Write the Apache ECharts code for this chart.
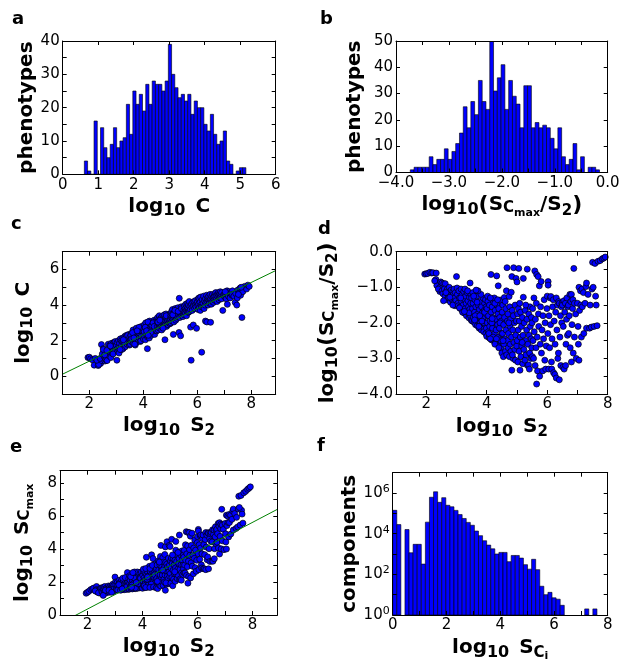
<!DOCTYPE html>
<html><head><meta charset="utf-8">
<script src="https://cdn.jsdelivr.net/npm/echarts@6/dist/echarts.min.js"></script>
<style>html,body{margin:0;padding:0;background:#fff}#chart{width:623px;height:665px}</style>
</head><body><div id="chart"></div>
<script>
// ---------- DATA ----------
// (a) histogram of log10 C : 50 bins starting at 0.61, width 0.091
const aBinStart = 0.61, aBinWidth = 0.091;
const aCounts = [4,1,0,16,0,14,8,5,9,14,8,10,11,21,12,25,21,24,19,27,21,28,27,27,25,28,39,30,26,23,24,22,24,18,22,20,20,15,13,18,12,9,10,13,4,3,0,1,2,2];
// (b) histogram of log10(Scmax/S2) : 50 bins starting at -3.73, width 0.0715
const bBinStart = -3.73, bBinWidth = 0.0715;
const bCounts = [1,2,2,2,2,6,3,5,5,9,5,8,11,15,25,17,27,22,35,27,24,50,31,36,41,24,35,29,26,17,33,33,17,19,17,18,17,13,9,17,6,3,5,11,1,6,0,2,2,1];
// (f) histogram of log10 S_Ci (counts, log y) : 50 bins from 0, width 0.152
const fBinStart = 0, fBinWidth = 0.152;
const fCounts = [141000,28000,0,16000,1150,3000,3000,320,37000,620000,1150000,350000,590000,250000,210000,140000,87000,56000,36000,26000,13500,8000,4500,2750,1800,1000,1200,1200,420,850,850,630,300,180,550,170,26,10,13,7,6,3,0,0,0,0,0,2,0,2];
// phenotypes: [log10 S2, log10(Scmax/S2), log10 C]
const phenotypes = [
[1.95,-0.63,1.05],[2.0,-0.62,1.07],[2.05,-0.61,0.98],[2.12,-0.58,0.92],[2.18,-0.6,0.62],[2.22,-0.59,1.0],[2.33,-0.6,0.6],[2.32,-0.78,0.85],[2.37,-0.88,0.95],[2.42,-0.9,0.72],[2.45,-1.12,1.78],[2.35,-0.95,0.66],[2.28,-0.82,0.9],[2.46,-1.0,0.88],[2.4,-1.05,1.0],[2.48,-0.85,1.25],
[2.52,-0.88,1.55],[2.58,-0.9,0.85],[2.63,-0.9,0.9],[2.52,-1.1,1.5],[2.55,-1.18,1.1],[2.6,-1.05,1.0],[2.62,-1.25,0.95],[2.66,-1.12,0.88],[2.68,-1.35,1.3],[2.7,-1.05,1.8],[2.72,-1.2,1.4],[2.74,-1.3,1.15],[2.76,-1.0,1.75],[2.78,-1.15,1.35],[2.8,-1.42,1.05],[2.82,-1.08,1.85],[2.84,-1.25,1.55],[2.86,-1.35,1.3],[2.88,-1.12,1.6],[2.9,-1.2,1.88],[2.9,-1.45,1.45],[2.92,-1.05,1.9],[2.94,-1.3,1.7],[2.95,-1.52,1.4],[2.96,-1.15,1.95],[2.98,-1.38,1.62],[2.57,-1.38,1.2],[2.65,-1.15,1.45],[2.78,-1.28,1.7],[2.88,-1.5,1.25],
[3.0,-0.7,1.75],[3.02,-1.02,0.9],[3.03,-1.2,1.9],[3.05,-1.45,1.55],[3.06,-1.52,1.4],[3.08,-1.1,2.0],[3.1,-1.3,1.7],[3.12,-1.55,1.85],[3.13,-1.6,1.45],[3.15,-1.05,2.1],[3.17,-1.4,1.6],[3.18,-1.22,2.0],[3.2,-1.65,1.75],[3.22,-1.5,1.95],[3.24,-1.12,2.15],[3.25,-1.72,1.55],[3.27,-1.35,1.85],[3.29,-1.6,2.1],[3.3,-1.25,1.7],[3.32,-1.45,2.25],[3.33,-1.8,1.65],[3.35,-1.15,2.0],[3.36,-1.7,1.9],[3.38,-1.38,2.3],[3.4,-1.55,1.8],[3.41,-1.86,2.05],[3.43,-1.28,2.15],[3.44,-1.62,1.95],[3.45,-0.88,2.2],[3.46,-1.8,2.35],[3.47,-1.45,1.85],[3.48,-1.2,2.1],[3.49,-1.93,1.75],[3.1,-1.58,1.3],[3.2,-1.7,1.5],[3.28,-1.05,1.95],[3.37,-1.1,2.2],[3.14,-1.3,1.5],[3.42,-1.72,2.3],[3.26,-1.68,2.05],
[3.5,-1.3,2.2],[3.52,-1.95,1.8],[3.53,-1.6,2.05],[3.55,-1.45,2.4],[3.56,-1.85,1.95],[3.58,-1.98,2.15],[3.6,-1.7,2.3],[3.61,-1.35,2.0],[3.63,-2.05,1.85],[3.64,-1.55,2.5],[3.66,-1.9,2.1],[3.67,-1.25,2.35],[3.69,-2.08,2.0],[3.7,-1.75,1.75],[3.72,-1.5,2.55],[3.73,-1.95,2.25],[3.75,-2.15,1.9],[3.76,-1.62,2.4],[3.78,-1.4,2.2],[3.79,-2.0,2.6],[3.8,-1.85,2.05],[3.82,-2.2,2.3],[3.83,-1.55,2.7],[3.85,-1.72,2.15],[3.86,-2.1,2.45],[3.88,-1.3,2.75],[3.89,-1.95,1.95],[3.9,-2.25,2.35],[3.92,-1.65,2.6],[3.93,-1.45,2.8],[3.94,-2.05,2.2],[3.95,-1.82,2.5],[3.97,-2.3,2.1],[3.98,-1.55,2.65],[3.99,-2.15,2.4],[3.54,-1.15,2.3],[3.62,-1.8,2.6],[3.68,-1.42,1.8],[3.74,-2.1,2.7],[3.81,-1.2,2.45],[3.87,-1.88,2.55],[3.91,-2.0,2.0],[3.96,-1.35,2.3],[3.57,-1.25,2.1],[3.71,-1.1,2.5],[3.84,-1.95,2.75],[3.6,-1.92,2.45],[3.77,-1.8,2.55],[3.93,-1.7,2.25],[3.65,-1.08,2.15],
[4.0,-2.38,2.1],[4.01,-1.6,2.6],[4.02,-2.0,2.35],[4.04,-1.4,2.9],[4.05,-2.25,2.2],[4.06,-1.8,2.55],[4.08,-2.42,2.05],[4.09,-1.5,3.0],[4.1,-2.1,2.45],[4.11,-1.95,2.7],[4.13,-2.35,2.3],[4.14,-0.64,2.6],[4.15,-1.7,1.55],[4.16,-2.48,2.2],[4.18,-1.55,2.85],[4.19,-2.15,2.5],[4.2,-1.85,2.75],[4.22,-2.5,2.15],[4.23,-1.42,3.1],[4.24,-2.0,2.4],[4.25,-1.3,2.95],[4.26,-2.3,2.6],[4.28,-1.65,2.8],[4.29,-2.55,2.3],[4.3,-1.9,2.55],[4.31,-2.2,3.0],[4.33,-0.68,2.75],[4.34,-1.5,2.45],[4.35,-2.6,2.4],[4.36,-2.05,2.9],[4.37,-1.75,2.65],[4.38,-0.96,2.85],[4.39,-2.4,2.7],[4.4,-1.6,3.15],[4.41,-2.65,2.5],[4.42,-2.15,2.35],[4.43,-1.85,3.05],[4.45,-1.36,2.8],[4.46,-2.5,2.95],[4.47,-2.7,2.55],[4.48,-1.95,2.7],[4.49,-2.3,3.2],[4.03,-1.25,2.5],[4.07,-2.3,2.75],[4.12,-1.3,2.35],[4.17,-2.0,3.05],[4.21,-2.4,2.6],[4.27,-1.45,2.55],[4.32,-2.45,2.85],[4.36,-1.35,3.0],[4.44,-2.0,2.6],[4.12,-2.45,2.55],[4.27,-2.6,2.45],[4.4,-2.7,2.8],[4.18,-1.88,2.3],
[4.5,-2.85,2.55],[4.51,-1.7,3.1],[4.52,-2.3,2.8],[4.53,-1.5,3.3],[4.55,-2.95,2.6],[4.56,-2.05,2.95],[4.57,-2.6,3.2],[4.58,-1.29,2.75],[4.59,-1.85,3.4],[4.6,-2.45,2.7],[4.62,-2.8,3.0],[4.63,-1.6,2.85],[4.64,-2.2,3.25],[4.65,-1.1,3.05],[4.66,-2.9,2.9],[4.67,-0.45,3.15],[4.68,-1.95,2.6],[4.69,-2.5,3.35],[4.7,-1.75,3.0],[4.71,-2.7,2.75],[4.72,-2.3,3.1],[4.74,-1.26,3.3],[4.75,-2.95,3.15],[4.76,-1.55,2.85],[4.77,-2.1,3.45],[4.78,-2.6,2.95],[4.79,-1.9,3.2],[4.8,-2.8,2.05],[4.81,-1.14,3.0],[4.82,-2.4,3.3],[4.83,-0.7,3.1],[4.83,-3.33,2.9],[4.84,-1.65,3.5],[4.86,-2.2,2.8],[4.87,-3.0,3.25],[4.88,-1.8,3.05],[4.89,-0.45,3.4],[4.9,-2.55,3.15],[4.91,-2.0,2.9],[4.93,-2.75,3.35],[4.94,-1.5,3.2],[4.95,-3.05,3.0],[4.96,-2.35,3.45],[4.97,-0.75,3.3],[4.98,-1.95,3.1],[4.99,-2.65,2.95],[4.54,-2.5,3.05],[4.61,-1.4,3.15],[4.73,-2.0,2.7],[4.85,-2.9,3.4],
[5.0,-0.85,3.2],[5.01,-2.5,3.4],[5.02,-1.75,3.0],[5.03,-3.1,3.55],[5.04,-2.2,3.3],[5.05,-1.6,3.65],[5.06,-0.47,3.1],[5.07,-2.8,3.35],[5.08,-1.95,3.75],[5.1,-3.33,3.2],[5.11,-2.4,2.35],[5.12,-1.7,3.5],[5.13,-2.95,3.05],[5.15,-2.1,3.6],[5.16,-2.65,3.3],[5.18,-1.85,3.8],[5.19,-3.15,3.45],[5.2,-2.35,3.15],[5.21,-0.75,3.7],[5.21,-1.28,3.4],[5.23,-2.75,3.55],[5.24,-2.0,3.25],[5.26,-3.05,3.6],[5.27,-1.65,3.35],[5.28,-2.5,3.85],[5.3,-2.9,3.5],[5.32,-2.2,2.46],[5.33,-1.9,4.38],[5.34,-0.49,3.6],[5.35,-3.2,3.3],[5.36,-2.6,3.7],[5.38,-3.18,2.27],[5.39,-1.75,3.55],[5.4,-2.35,3.9],[5.42,-2.85,3.4],[5.43,-1.55,3.75],[5.44,-2.1,3.55],[5.46,-3.0,3.65],[5.47,-2.45,3.35],[5.48,-1.85,3.85],[5.49,-2.7,3.6],[5.09,-1.45,3.45],[5.17,-2.55,3.7],[5.29,-1.5,3.65],[5.41,-3.3,3.8],
[5.5,-2.0,3.7],[5.51,-2.95,3.45],[5.52,-1.6,3.95],[5.53,-2.5,3.6],[5.55,-3.0,3.8],[5.56,-1.3,3.55],[5.57,-2.25,4.05],[5.59,-0.54,3.7],[5.6,-3.2,3.4],[5.61,-1.9,3.9],[5.63,-2.7,3.75],[5.64,-1.45,4.1],[5.65,-0.64,3.6],[5.65,-3.72,3.85],[5.67,-2.4,4.0],[5.68,-3.35,3.6],[5.7,-0.7,4.2],[5.71,-1.75,3.65],[5.72,-2.1,3.9],[5.74,-0.96,3.75],[5.75,-3.5,2.76],[5.77,-2.6,0.9],[5.78,-1.55,4.05],[5.8,-0.84,3.85],[5.81,-2.85,3.7],[5.83,-2.2,4.15],[5.85,-3.35,2.88],[5.86,-1.8,3.95],[5.88,-2.45,4.2],[5.9,-1.35,3.8],[5.92,-3.05,4.0],[5.93,-2.0,4.25],[5.95,-3.3,3.9],[5.97,-2.65,2.69],[5.99,-1.6,4.1],
[6.0,-1.25,4.2],[6.02,-2.3,3.95],[6.03,-0.84,4.35],[6.03,-0.94,3.75],[6.05,-3.3,4.05],[6.06,-1.8,4.4],[6.08,-2.7,3.85],[6.1,-1.3,4.15],[6.11,-2.05,3.7],[6.12,-1.26,4.45],[6.14,-3.1,4.0],[6.15,-3.3,3.9],[6.16,-2.45,1.35],[6.18,-1.55,4.3],[6.2,-1.35,3.95],[6.21,-3.4,4.1],[6.23,-1.95,4.5],[6.25,-3.45,3.8],[6.26,-2.6,4.25],[6.28,-1.7,4.0],[6.3,-1.3,3.1],[6.3,-3.55,4.35],[6.32,-2.2,4.15],[6.34,-1.5,4.55],[6.35,-3.0,3.05],[6.37,-2.85,4.2],[6.38,-1.4,4.4],[6.4,-1.45,4.0],[6.4,-3.6,4.3],[6.42,-2.4,4.5],[6.44,-1.8,4.25],[6.45,-3.2,4.1],[6.47,-1.55,4.6],[6.48,-2.0,4.3],[6.49,-1.45,3.03],
[6.5,-1.5,4.35],[6.52,-3.25,4.05],[6.53,-2.1,4.5],[6.55,-1.38,4.2],[6.56,-3.3,4.6],[6.58,-1.7,4.4],[6.6,-1.45,4.15],[6.61,-3.2,4.45],[6.62,-2.6,4.3],[6.64,-1.9,4.6],[6.65,-1.3,4.5],[6.67,-2.35,4.25],[6.68,-1.55,4.7],[6.7,-1.5,4.35],[6.71,-2.3,4.55],[6.73,-1.8,4.2],[6.75,-1.2,4.6],[6.76,-2.7,4.45],[6.78,-1.4,4.7],[6.8,-1.2,4.3],[6.8,-3.1,4.55],[6.82,-2.05,4.65],[6.84,-1.6,4.4],[6.85,-1.35,4.75],[6.86,-2.85,4.5],[6.88,-0.47,4.6],[6.9,-1.45,4.35],[6.9,-2.4,4.7],[6.94,-1.75,3.7],[6.96,-3.0,4.55],
[7.0,-1.45,4.6],[7.02,-2.1,4.45],[7.05,-1.0,4.7],[7.05,-3.05,4.55],[7.07,-1.65,4.35],[7.1,-1.1,4.8],[7.11,-1.5,4.04],[7.13,-2.4,4.6],[7.15,-1.05,4.5],[7.16,-1.55,4.75],[7.2,-1.15,4.65],[7.21,-2.3,4.4],[7.25,-1.45,4.7],[7.28,-0.98,4.55],[7.3,-0.88,4.8],[7.3,-2.15,4.6],[7.35,-1.2,4.5],[7.4,-2.15,4.15],[7.42,-1.5,4.65],[7.46,-2.12,4.0],[7.48,-1.05,4.4],[7.03,-2.6,4.75],
[7.5,-0.3,4.85],[7.55,-2.1,4.7],[7.58,-0.33,4.95],[7.6,-1.25,4.55],[7.65,-2.08,3.3],[7.68,-0.27,4.75],[7.75,-0.25,5.05],[7.82,-0.2,4.9],[7.87,-0.18,5.12],[7.92,-0.15,5.05],[7.52,-1.0,4.6],[7.62,-1.5,5.0]
];
// least-squares fit lines (slope, intercept) drawn in panels c and e
const cFit = [0.738, -0.63];
const eFit = [0.876, -1.39];

// ---------- CHART ----------
const FONT = 'DejaVu Sans';
const chart = echarts.init(document.getElementById('chart'), null, {renderer: 'canvas'});

const tok = (size, padTop, padRight) => ({fontFamily: FONT, fontWeight: 'bold', color: '#000', fontSize: size,
  verticalAlign: 'middle', padding: [padTop || 0, padRight || 0, 0, 0]});
const nameRich = {
  t: tok(20),
  sp: tok(20, 0, 3),
  s: tok(16, 10),
  s2: tok(15, 12),
  c: tok(15, 6),
  m: tok(11, 16),
  ci: tok(15, 10),
  mi: tok(11, 17),
  p: tok(22)
};
const tickRich = {
  b: {fontFamily: FONT, fontSize: 15, color: '#000'},
  sup: {fontFamily: FONT, fontSize: 11, color: '#000', padding: [0, 0, 8, 0]}
};
const N = {
  pheno: '{t|phenotypes}',
  comp: '{t|components}',
  logC: '{t|log}{s|10}{sp| }{t|C}',
  logS2: '{t|log}{s|10}{sp| }{t|S}{s2|2}',
  ratio: '{t|log}{s|10}{p|(}{t|S}{c|C}{m|max}{t|/S}{s2|2}{p|)}',
  logScmax: '{t|log}{s|10}{sp| }{t|S}{c|C}{m|max}',
  logSci: '{t|log}{s|10}{sp| }{t|S}{ci|C}{mi|i}'
};

const near = (v, step) => Math.abs(v / step - Math.round(v / step)) < 1e-6;
const intFmt = step => v => near(v, step) ? String(Math.round(v)) : '';
const minusFmt = step => v => {
  if (!near(v, step)) return '';
  const r = Math.round(v);
  return (r < 0 ? '\u2212' : '') + Math.abs(r).toFixed(1);
};
const logFmt = v => {
  const e = Math.round(Math.log10(v));
  return e % 2 === 0 ? '{b|10}{sup|' + e + '}' : '';
};

const panels = [
  {grid: {left: 62.7, top: 41, width: 213, height: 133.3},
   x: {min: 0, max: 6, interval: 1, fmt: intFmt(1)}, y: {min: 0, max: 40, interval: 5, fmt: intFmt(10)},
   xname: N.logC, yname: N.pheno, xgap: 19, ygap: 26},
  {grid: {left: 396, top: 41, width: 211.7, height: 131.5},
   x: {min: -4, max: 0, interval: 0.5, fmt: minusFmt(1)}, y: {min: 0, max: 50, interval: 10, fmt: intFmt(10)},
   xname: N.ratio, yname: N.pheno, xgap: 19, ygap: 31},
  {grid: {left: 62.3, top: 251.7, width: 213.4, height: 142.3},
   x: {min: 1, max: 8.9, interval: 1, fmt: intFmt(2)}, y: {min: -1, max: 7, interval: 1, fmt: intFmt(2)},
   xname: N.logS2, yname: N.logC, xgap: 18, ygap: 26},
  {grid: {left: 396, top: 251.7, width: 211.7, height: 142.3},
   x: {min: 1, max: 8, interval: 1, fmt: intFmt(2)}, y: {min: -4, max: 0, interval: 0.5, fmt: minusFmt(1)},
   xname: N.logS2, yname: N.ratio, xgap: 19, ygap: 55},
  {grid: {left: 60, top: 470.7, width: 217.3, height: 144.3},
   x: {min: 1, max: 8.9, interval: 1, fmt: intFmt(2)}, y: {min: 0, max: 8.75, interval: 1, fmt: intFmt(2)},
   xname: N.logS2, yname: N.logScmax, xgap: 18, ygap: 24},
  {grid: {left: 392.7, top: 472.7, width: 215, height: 142.3},
   x: {min: 0, max: 8, interval: 1, fmt: intFmt(2)}, y: {type: 'log', min: 1, max: 1e7, fmt: logFmt},
   xname: N.logSci, yname: N.comp, xgap: 19, ygap: 27}
];

const xAxes = [], yAxes = [], grids = [];
function axisBase(gi, spec) {
  const a = {
    gridIndex: gi, type: spec.type || 'value', min: spec.min, max: spec.max, z: 5,
    axisLine: {show: true, onZero: false, lineStyle: {color: '#000', width: 1}},
    axisTick: {show: true, inside: true, length: 4, lineStyle: {color: '#000', width: 1}},
    splitLine: {show: false}
  };
  if (spec.type === 'log') { a.logBase = 10; a.splitNumber = 7; } else { a.interval = spec.interval; }
  return a;
}
panels.forEach((p, gi) => {
  grids.push(Object.assign({containLabel: false}, p.grid));
  const label = spec => ({show: true, margin: 3, formatter: spec.fmt, fontFamily: FONT, fontSize: 15, color: '#000', rich: tickRich});
  xAxes.push(Object.assign(axisBase(gi, p.x), {position: 'bottom', axisLabel: label(p.x),
    name: p.xname, nameLocation: 'middle', nameGap: p.xgap, nameTextStyle: {rich: nameRich}}));
  xAxes.push(Object.assign(axisBase(gi, p.x), {position: 'top', axisLabel: {show: false}}));
  yAxes.push(Object.assign(axisBase(gi, p.y), {position: 'left', axisLabel: label(p.y),
    name: p.yname, nameLocation: 'middle', nameGap: p.ygap, nameTextStyle: {rich: nameRich}}));
  yAxes.push(Object.assign(axisBase(gi, p.y), {position: 'right', axisLabel: {show: false}}));
});

function histSeries(gi, start, width, counts, isLog) {
  const data = [];
  counts.forEach((c, i) => { if (!(isLog && c <= 0)) data.push([start + i * width, start + (i + 1) * width, c]); });
  return {
    type: 'custom', xAxisIndex: 2 * gi, yAxisIndex: 2 * gi, data, encode: {x: [0, 1], y: 2}, clip: true, z: 2,
    renderItem: (params, api) => {
      const base = isLog ? 1 : 0;
      const p0 = api.coord([api.value(0), base]);
      const p1 = api.coord([api.value(1), api.value(2)]);
      return {type: 'rect', shape: {x: p0[0], y: p1[1], width: p1[0] - p0[0], height: p0[1] - p1[1]},
        style: {fill: '#0000ff', stroke: '#000', lineWidth: 0.6}};
    }
  };
}
function scatterSeries(gi, data) {
  return {type: 'scatter', xAxisIndex: 2 * gi, yAxisIndex: 2 * gi, data, symbol: 'circle', symbolSize: 6, clip: true, z: 2,
    itemStyle: {color: '#0000ff', borderColor: '#000', borderWidth: 0.7, opacity: 1}};
}
function fitSeries(gi, fit, x0, x1) {
  return {type: 'line', xAxisIndex: 2 * gi, yAxisIndex: 2 * gi, symbol: 'none', clip: true, z: 3,
    data: [[x0, fit[0] * x0 + fit[1]], [x1, fit[0] * x1 + fit[1]]],
    lineStyle: {color: '#008000', width: 1}};
}

const cData = phenotypes.map(p => [p[0], p[2]]);
const dData = phenotypes.map(p => [p[0], p[1]]);
const eData = phenotypes.map(p => [p[0], +(p[0] + p[1]).toFixed(3)]);

const letters = [['a', 12, 10], ['b', 320, 10], ['c', 11, 215], ['d', 318, 220], ['e', 10, 438], ['f', 317, 437]];

chart.setOption({
  animation: false,
  backgroundColor: '#fff',
  grid: grids, xAxis: xAxes, yAxis: yAxes,
  graphic: letters.map(l => ({type: 'text', left: l[1], top: l[2],
    style: {text: l[0], font: 'bold 18px "DejaVu Sans"', fill: '#000'}})),
  series: [
    histSeries(0, aBinStart, aBinWidth, aCounts, false),
    histSeries(1, bBinStart, bBinWidth, bCounts, false),
    scatterSeries(2, cData), fitSeries(2, cFit, 1, 8.9),
    scatterSeries(3, dData),
    scatterSeries(4, eData), fitSeries(4, eFit, 1, 8.9),
    histSeries(5, fBinStart, fBinWidth, fCounts, true)
  ]
});
</script></body></html>
